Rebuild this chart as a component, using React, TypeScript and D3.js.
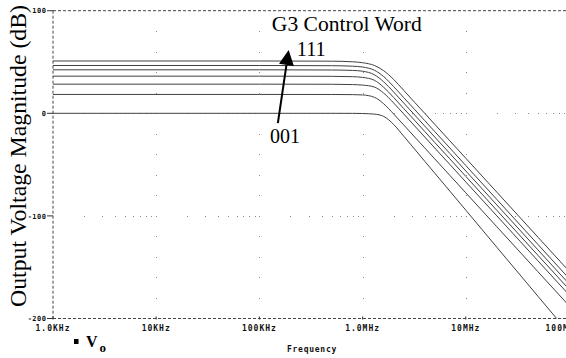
import React from 'react';
import * as d3 from 'd3';

const freqs = [1e3, 1e5, 5e5, 8e5, 1e6, 1.3e6, 1.6e6, 2e6, 2.5e6, 3.2e6, 4e6, 5e6, 7e6, 1e7, 2e7, 5e7, 1e8];
// Output voltage magnitude (dB) for each G3 control word
const cw111 = [51, 51, 50.8, 50.2, 49.3, 46.6, 41.5, 33.0, 22.4, 10.6, 0, -10.7, -26.8, -43.8, -76.9, -120.7, -153.8];
const cw110 = [46.6, 46.6, 46.4, 45.9, 45.1, 42.0, 35.8, 26.0, 15.4, 3.6, -7.1, -17.8, -33.8, -50.9, -84.0, -127.8, -160.9];
const cw101 = [42.4, 42.4, 42.2, 41.8, 41.0, 37.6, 30.7, 20.7, 10.1, -1.7, -12.4, -23.1, -39.1, -56.2, -89.3, -133.1, -166.2];
const cw100 = [36.2, 36.2, 36.05, 35.7, 35.0, 32.2, 25.4, 15.4, 4.7, -7.0, -17.7, -28.4, -44.4, -61.5, -94.6, -138.4, -171.5];
const cw011 = [28.4, 28.4, 28.3, 28.0, 27.5, 25.6, 19.7, 10.0, -0.6, -12.4, -23.1, -33.8, -49.8, -66.9, -100.0, -143.8, -176.9];
const cw010 = [18.4, 18.4, 18.35, 18.2, 17.9, 15.6, 9.3, -0.7, -11.3, -23.1, -33.7, -44.4, -60.5, -77.5, -110.6, -154.4, -187.5];
const cw001 = [0, 0, 0, -0.05, -0.2, -0.8, -3.0, -10.9, -22.2, -35.0, -46.7, -58.3, -75.8, -94.4, -130.6, -178.3, -214.4];
const seriesList = [cw111, cw110, cw101, cw100, cw011, cw010, cw001];

const xTickValues = [1e3, 1e4, 1e5, 1e6, 1e7, 1e8];
const xTickLabels = ['1.0KHz', '10KHz', '100KHz', '1.0MHz', '10MHz', '100MHz'];
const yTickValues = [100, 0, -100, -200];
const yTickLabels = ['100', '0', '-100', '-200'];

// annotation anchors in data units [freq, dB]
const arrowFrom = [1.51e5, -9.5];
const arrowTip = [1.92e5, 61.7];

const serifStyle = { fontFamily: "'Liberation Serif', 'Times New Roman', 'DejaVu Serif', serif" };
const monoStyle = { fontFamily: "'DejaVu Sans Mono', 'Liberation Mono', monospace", fontWeight: 700 };

export default function App() {
  const W = 566, H = 358;
  const x = d3.scaleLog().domain([1e3, 1e8]).range([53, 569]);
  const y = d3.scaleLinear().domain([-200, 100]).range([318.5, 10.7]);
  const left = x(1e3), top = y(100), bottom = y(-200);

  const line = d3.line<number>()
    .x((_, i) => x(freqs[i]))
    .y((d) => y(d))
    .curve(d3.curveMonotoneX);

  // grid dots
  const dots: [number, number][] = [];
  const minorY = d3.range(-180, 100, 20).filter((v) => v % 100 !== 0);
  [1e4, 1e5, 1e6, 1e7].forEach((f) => minorY.forEach((v) => dots.push([x(f), y(v)])));
  const minorX: number[] = [];
  [1e3, 1e4, 1e5, 1e6, 1e7].forEach((d) => { for (let k = 2; k <= 10; k++) minorX.push(d * k); });
  [0, -100].forEach((v) => minorX.forEach((f) => { if (x(f) < W) dots.push([x(f), y(v)]); }));

  // arrow geometry
  const ax0 = x(arrowFrom[0]), ay0 = y(arrowFrom[1]);
  const ax1 = x(arrowTip[0]), ay1 = y(arrowTip[1]);
  const len = Math.hypot(ax1 - ax0, ay1 - ay0);
  const ux = (ax1 - ax0) / len, uy = (ay1 - ay0) / len;
  const px = -uy, py = ux;
  const hl = 15, hw = 7.5;
  const bx = ax1 - ux * hl, by = ay1 - uy * hl;
  const head = `${ax1},${ay1} ${bx + px * hw},${by + py * hw} ${bx - px * hw},${by - py * hw}`;

  return (
    <svg width={W} height={H} style={{ position: 'absolute', left: 0, top: 0, background: '#fff' }}>
      <defs>
        <clipPath id="plot">
          <rect x={left} y={top} width={W - left} height={bottom - top} />
        </clipPath>
      </defs>
      <rect x={0} y={0} width={W} height={H} fill="#fff" />
      {dots.map(([dx, dy], i) => (
        <rect key={i} x={Math.round(dx)} y={Math.round(dy)} width={1} height={1} fill="#8a8a8a" />
      ))}
      {/* frame */}
      <line x1={left} x2={W} y1={top} y2={top} stroke="#444" strokeDasharray="3,2" />
      <line x1={48} x2={W} y1={bottom} y2={bottom} stroke="#444" strokeDasharray="3,2" />
      <line x1={left} x2={left} y1={top} y2={bottom} stroke="#444" strokeDasharray="3,2" />
      {/* y ticks */}
      {yTickValues.map((v, i) => (
        <g key={v}>
          <line x1={47} x2={left} y1={y(v)} y2={y(v)} stroke="#333" />
          <text x={46.5} y={y(v) + 2.6} textAnchor="end" style={monoStyle} fontSize={7} letterSpacing={0.5} fill="#111">
            {yTickLabels[i]}
          </text>
        </g>
      ))}
      {/* x ticks */}
      {xTickValues.map((f, i) => (
        <g key={f}>
          <line x1={x(f)} x2={x(f)} y1={bottom - 2} y2={bottom + 1} stroke="#333" />
          <text x={Math.min(x(f), 563)} y={331} textAnchor="middle" style={monoStyle} fontSize={8} letterSpacing={1} fill="#111">
            {xTickLabels[i]}
          </text>
        </g>
      ))}
      {/* curves */}
      <g clipPath="url(#plot)">
        {seriesList.map((s, i) => (
          <path key={i} d={line(s) || ''} fill="none" stroke="#404040" strokeWidth={1} />
        ))}
      </g>
      {/* annotations */}
      <text x={x(1.32e5)} y={y(80)} style={serifStyle} fontSize={21} fill="#000" textLength={150} lengthAdjust="spacingAndGlyphs">G3 Control Word</text>
      <text x={x(2.3e5)} y={y(55.8)} style={serifStyle} fontSize={20} fill="#000" textLength={29} lengthAdjust="spacingAndGlyphs">111</text>
      <text x={x(1.27e5)} y={y(-29.2)} style={serifStyle} fontSize={20} fill="#000" textLength={30} lengthAdjust="spacingAndGlyphs">001</text>
      <line x1={ax0} y1={ay0} x2={bx} y2={by} stroke="#000" strokeWidth={2} />
      <polygon points={head} fill="#000" />
      {/* axis titles */}
      <text transform={`translate(26,156) rotate(-90)`} textAnchor="middle" style={serifStyle} fontSize={23} fill="#000" textLength={302} lengthAdjust="spacingAndGlyphs">
        Output Voltage Magnitude (dB)
      </text>
      <text x={312} y={351.5} textAnchor="middle" style={monoStyle} fontSize={8} letterSpacing={0.75} fill="#111">
        Frequency
      </text>
      {/* legend */}
      <rect x={74} y={339} width={4.5} height={5} fill="#000" />
      <text x={86} y={347} style={{ ...serifStyle, fontWeight: 700 }} fontSize={16} fill="#000">V</text>
      <text x={99.5} y={352} style={{ ...serifStyle, fontWeight: 700 }} fontSize={13} fill="#000">o</text>
    </svg>
  );
}
